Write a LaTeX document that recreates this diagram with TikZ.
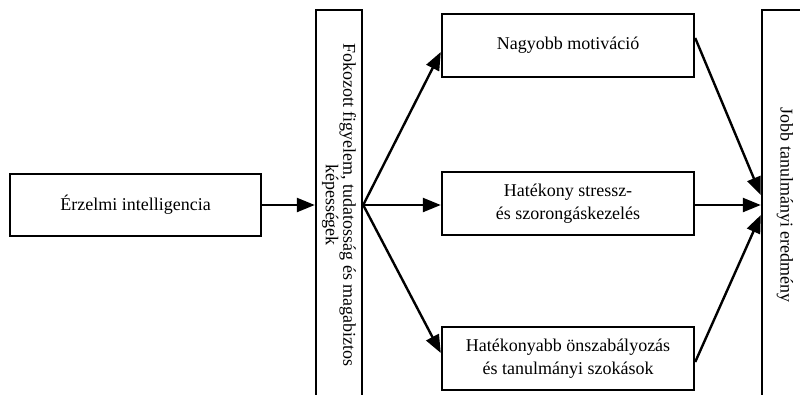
\documentclass[tikz,border=0pt]{standalone}
\usepackage{fontspec}
\setmainfont{Liberation Serif}
\usetikzlibrary{arrows.meta,calc}
\begin{document}
\begin{tikzpicture}[x=1pt,y=-1pt,
  box/.style={draw,line width=2.4pt,align=center,inner sep=0pt,
    font=\fontsize{18}{23}\selectfont},
  wide/.style={box,minimum width=252pt,minimum height=63pt},
  tall/.style={box,rotate=-90,minimum width=390pt,minimum height=46pt},
  arr/.style={line width=2.4pt,-{Triangle[length=18pt,width=14pt]}}]
\useasboundingbox (0,0) rectangle (800,394);
\clip (0,0) rectangle (800,394);
\node[box,minimum width=251pt,minimum height=62pt] (ei) at (135.5,205) {Érzelmi intelligencia};
\node[tall,font=\fontsize{18}{15}\selectfont] (mid) at (339,205) {Fokozott figyelem, tudatosság és magabiztos\\képességek};
\node[tall] (res) at (785,205) {Jobb tanulmányi eredmény};
\node[wide] (nm) at (568,45.5) {Nagyobb motiváció};
\node[wide] (st) at (568,203.5) {Hatékony stressz-\\és szorongáskezelés};
\node[wide] (hb) at (568,358.5) {Hatékonyabb önszabályozás\\és tanulmányi szokások};
\coordinate (src) at (mid.north);
\draw[arr] (ei.east) -- (mid.south);
\draw[arr] (src) -- ($(nm.west)+(0,6.5)$);
\draw[arr] (src) -- (st.west |- src);
\draw[arr] (src) -- ($(hb.west)+(0,-5.5)$);
\draw[arr] ($(nm.east)+(0,-7.5)$) -- ($(res.south)+(0,-10)$);
\draw[arr] (st.east |- res.south) -- (res.south);
\draw[arr] ($(hb.east)+(0,3.5)$) -- ($(res.south)+(0,10)$);
\end{tikzpicture}
\end{document}
